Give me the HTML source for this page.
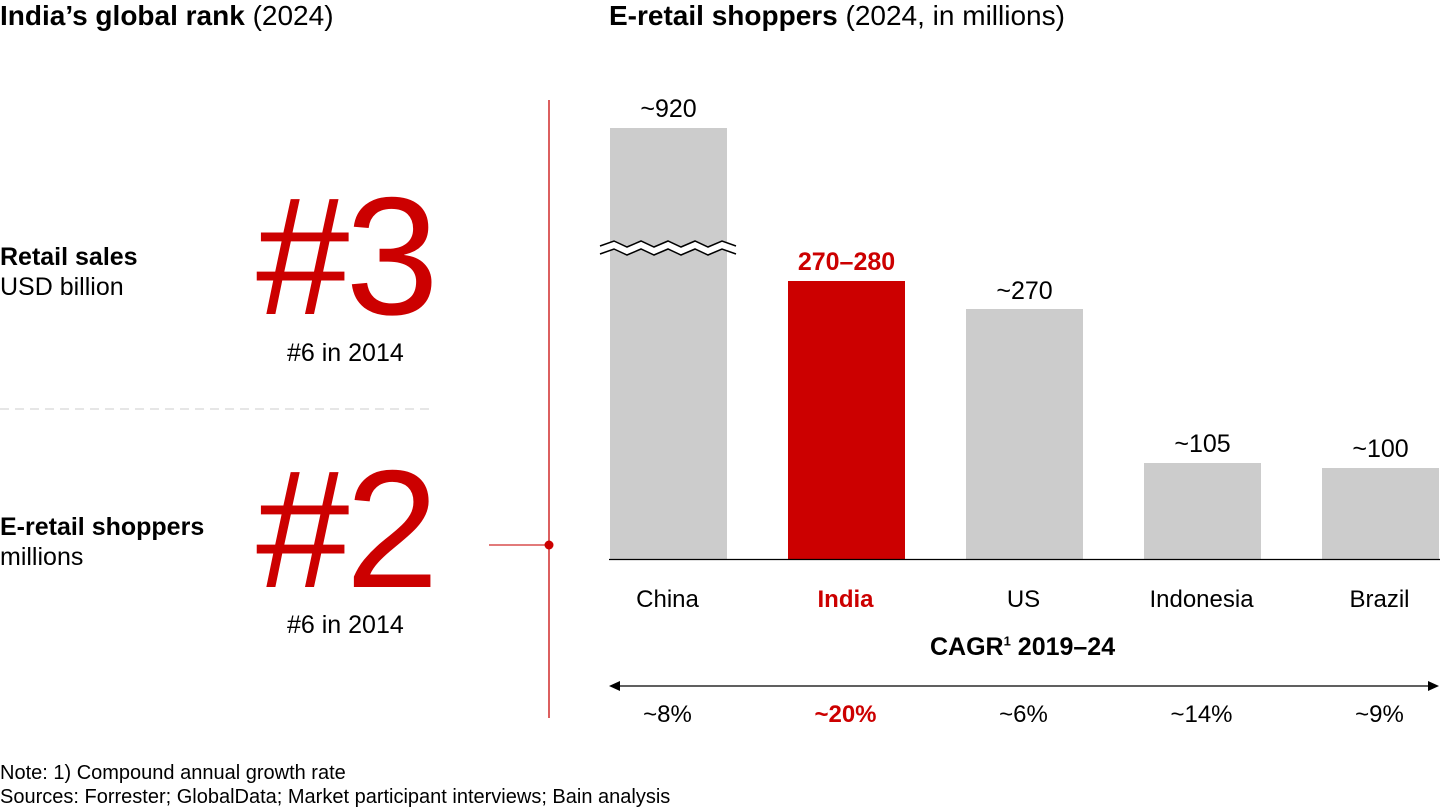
<!DOCTYPE html>
<html><head><meta charset="utf-8"><style>
body{margin:0;width:1440px;height:810px;background:#fff;overflow:hidden;font-family:"Liberation Sans",sans-serif;color:#000}
.t{position:absolute;white-space:nowrap}
</style></head><body>
<svg width="1440" height="810" style="position:absolute;left:0;top:0">
<line x1="549" y1="100" x2="549" y2="718" stroke="#d12a2a" stroke-width="1.5"/>
<line x1="489" y1="545" x2="549" y2="545" stroke="#d12a2a" stroke-width="1.2"/>
<circle cx="549" cy="545" r="4.5" fill="#cc0000"/>
<line x1="0" y1="409" x2="432" y2="409" stroke="#ddd" stroke-width="1.5" stroke-dasharray="9,6"/>
<rect x="610" y="128" width="117" height="431" fill="#cccccc"/>
<rect x="788" y="281" width="117" height="278" fill="#cc0000"/>
<rect x="966" y="309" width="117" height="250" fill="#cccccc"/>
<rect x="1144" y="463" width="117" height="96" fill="#cccccc"/>
<rect x="1322" y="468" width="117" height="91" fill="#cccccc"/>
<polygon points="600,246 614,241 627,247 641,241 654,247 668,241 681,247 695,241 708,247 722,241 736,246 736,254 722,249 708,255 695,249 681,255 668,249 654,255 641,249 627,255 614,249 600,254" fill="#fff"/>
<polyline points="600,246 614,241 627,247 641,241 654,247 668,241 681,247 695,241 708,247 722,241 736,246" fill="none" stroke="#000" stroke-width="1.5"/>
<polyline points="600,254 614,249 627,255 641,249 654,255 668,249 681,255 695,249 708,255 722,249 736,254" fill="none" stroke="#000" stroke-width="1.5"/>
<line x1="609" y1="559.5" x2="1440" y2="559.5" stroke="#000" stroke-width="1.2"/>
<line x1="612" y1="686" x2="1436" y2="686" stroke="#000" stroke-width="1.2"/>
<polygon points="609,686 620,681 620,691" fill="#000"/>
<polygon points="1439,686 1428,681 1428,691" fill="#000"/>
</svg>
<div class="t" style="left:0;top:0px;font-size:28px"><b>India’s global rank</b> (2024)</div>
<div class="t" style="left:609px;top:0px;font-size:28px"><b>E-retail shoppers</b> (2024, in millions)</div>
<div class="t" style="left:0;top:242px;font-size:25px;line-height:30px"><b>Retail sales</b><br>USD billion</div>
<div class="t" style="left:0;top:512px;font-size:25px;line-height:30px"><b>E-retail shoppers</b><br>millions</div>
<div class="t" style="left:256px;top:172px;font-size:168px;color:#cc0000;line-height:168px;letter-spacing:-4px">#3</div>
<div class="t" style="left:256px;top:445px;font-size:168px;color:#cc0000;line-height:168px;letter-spacing:-4px">#2</div>
<div class="t" style="left:287px;top:339px;font-size:25px">#6 in 2014</div>
<div class="t" style="left:287px;top:611px;font-size:25px">#6 in 2014</div>
<div class="t" style="left:600px;width:137px;text-align:center;top:95px;font-size:25px">~920</div>
<div class="t" style="left:778px;width:137px;text-align:center;top:248px;font-size:25px;color:#cc0000;font-weight:bold">270–280</div>
<div class="t" style="left:956px;width:137px;text-align:center;top:277px;font-size:25px">~270</div>
<div class="t" style="left:1134px;width:137px;text-align:center;top:430px;font-size:25px">~105</div>
<div class="t" style="left:1312px;width:137px;text-align:center;top:435px;font-size:25px">~100</div>
<div class="t" style="left:600px;width:135px;text-align:center;top:586px;font-size:24px">China</div>
<div class="t" style="left:778px;width:135px;text-align:center;top:586px;font-size:24px;color:#cc0000;font-weight:bold">India</div>
<div class="t" style="left:956px;width:135px;text-align:center;top:586px;font-size:24px">US</div>
<div class="t" style="left:1134px;width:135px;text-align:center;top:586px;font-size:24px">Indonesia</div>
<div class="t" style="left:1312px;width:135px;text-align:center;top:586px;font-size:24px">Brazil</div>
<div class="t" style="left:930px;top:633px;font-size:25px;font-weight:bold">CAGR<sup style="font-size:13px">1</sup> 2019–24</div>
<div class="t" style="left:600px;width:135px;text-align:center;top:701px;font-size:24px">~8%</div>
<div class="t" style="left:778px;width:135px;text-align:center;top:701px;font-size:24px;color:#cc0000;font-weight:bold">~20%</div>
<div class="t" style="left:956px;width:135px;text-align:center;top:701px;font-size:24px">~6%</div>
<div class="t" style="left:1134px;width:135px;text-align:center;top:701px;font-size:24px">~14%</div>
<div class="t" style="left:1312px;width:135px;text-align:center;top:701px;font-size:24px">~9%</div>
<div class="t" style="left:0;top:761px;font-size:20px;line-height:24px">Note: 1) Compound annual growth rate<br>Sources: Forrester; GlobalData; Market participant interviews; Bain analysis</div>
</body></html>
